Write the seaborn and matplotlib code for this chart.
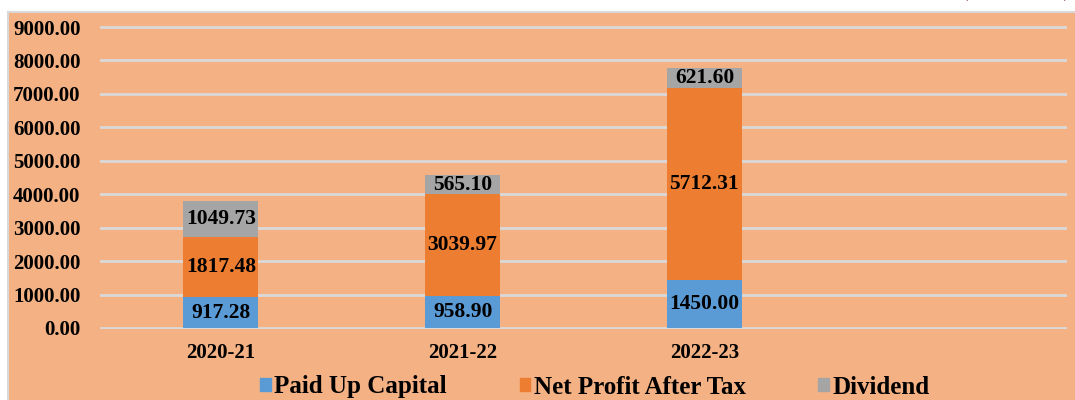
import seaborn as sns
import matplotlib as mpl
import matplotlib.pyplot as plt
from matplotlib.patches import Rectangle, Patch
import pandas as pd
import numpy as np

mpl.use('Agg')

years = ['2020-21', '2021-22', '2022-23']
paid_up = [917.28, 958.90, 1450.00]
net_profit = [1817.48, 3039.97, 5712.31]
dividend = [1049.73, 565.10, 621.60]
slots = years + [' ']   # empty 4th slot like the original
yticks = [0, 1000, 2000, 3000, 4000, 5000, 6000, 7000, 8000, 9000]

c_blue = '#5B9BD5'
c_orange = '#ED7D31'
c_gray = '#A5A5A5'
bg = '#F4B183'

sns.set_style('white')
plt.rcParams['font.family'] = ['Liberation Serif', 'DejaVu Serif']
plt.rcParams['font.weight'] = 'bold'
plt.rcParams['text.color'] = 'black'
plt.rcParams['xtick.color'] = 'black'
plt.rcParams['ytick.color'] = 'black'

df = pd.DataFrame({'Year': years, 'Paid': paid_up, 'Profit': net_profit, 'Div': dividend})
df['lvl2'] = df['Paid'] + df['Profit']
df['lvl3'] = df['lvl2'] + df['Div']

fig = plt.figure(figsize=(10.75, 4), dpi=100, facecolor='white')
fig.patches.append(Rectangle((8 / 1075, -0.01), 1.0, 388 / 400 + 0.01, transform=fig.transFigure,
                             facecolor=bg, edgecolor='#D9D9D9', lw=1.5, zorder=-10))
ax = fig.add_axes([100 / 1075, 0.1775, 967 / 1075, 0.7575])
ax.set_facecolor('none')

# stacked bars drawn as cumulative layers
sns.barplot(data=df, x='Year', y='lvl3', order=slots, color=c_gray, width=0.31, linewidth=0, saturation=1, ax=ax)
sns.barplot(data=df, x='Year', y='lvl2', order=slots, color=c_orange, width=0.31, linewidth=0, saturation=1, ax=ax)
sns.barplot(data=df, x='Year', y='Paid', order=slots, color=c_blue, width=0.31, linewidth=0, saturation=1, ax=ax)

for i in range(len(years)):
    bottoms = [0, paid_up[i], paid_up[i] + net_profit[i]]
    for b, v in zip(bottoms, [paid_up[i], net_profit[i], dividend[i]]):
        ax.text(i, b + v / 2, f'{v:.2f}', ha='center', va='center', fontsize=15.5, fontweight='bold', color='black')

ax.set_ylim(-30, 9030)
ax.set_xlim(-0.5, 3.5)
ax.set_yticks(yticks)
ax.set_yticklabels([f'{t:.2f}' for t in yticks])
ax.yaxis.grid(True, color='#D9D9D9', lw=2)
ax.set_axisbelow(True)
ax.tick_params(axis='y', length=0, pad=14, labelsize=15)
ax.tick_params(axis='x', length=0, pad=10, labelsize=15)
for lbl in ax.get_xticklabels() + ax.get_yticklabels():
    lbl.set_fontweight('bold')
ax.set_xlabel('')
ax.set_ylabel('')
sns.despine(ax=ax, left=True, bottom=True)

handles = [Patch(color=c_blue), Patch(color=c_orange), Patch(color=c_gray)]
labels = ['Paid Up Capital', 'Net Profit After Tax', 'Dividend']
fig.legend(handles, labels, loc='center', bbox_to_anchor=(595 / 1075, 1 - 387 / 400), ncol=3,
           frameon=False, handlelength=0.42, handleheight=0.42, handletextpad=0.15, columnspacing=2.9,
           labelcolor='black', prop={'family': 'Liberation Serif', 'weight': 'bold', 'size': 18})

fig.text(1016 / 1075, 1 + 3 / 400, '(Rs. in Crore)', ha='center', va='baseline', fontsize=14,
         fontweight='normal', color='#7F3F2F')

plt.savefig('out.png', dpi=100, facecolor='white')
